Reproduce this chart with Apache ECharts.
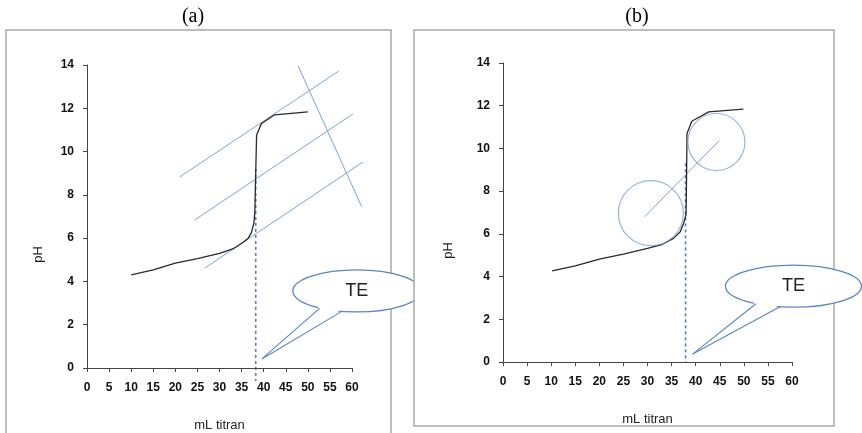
<!DOCTYPE html>
<html>
  <head>
    <meta charset="utf-8" />
    <script src="https://cdn.jsdelivr.net/npm/echarts@6.0.0/dist/echarts.min.js"></script>
    <style>
      html, body { margin: 0; padding: 0; background: #fff; }
      #main { width: 862px; height: 433px; }
    </style>
  </head>

  <body>
    <div id="main"></div>
    <script type="text/javascript">
      // titration curve, panel (a)
      const curveA = [
        [10, 4.3], [15, 4.53], [20, 4.85], [25, 5.05], [30, 5.3], [33, 5.5],
        [35.3, 5.8], [36.5, 6.0], [37.2, 6.24], [37.8, 6.7], [38.0, 7.2],
        [38.2, 9.0], [38.4, 10.77], [39.5, 11.3], [42.5, 11.7], [50, 11.83]
      ];
      // titration curve, panel (b)
      const curveB = [
        [10.2, 4.27], [15, 4.5], [20, 4.82], [25, 5.05], [30, 5.32], [33, 5.5],
        [35.4, 5.79], [36.8, 6.1], [37.5, 6.5], [38.0, 6.9], [38.1, 8.5],
        [38.2, 10.7], [39.2, 11.27], [42.7, 11.71], [49.9, 11.84]
      ];
      // construction lines, panel (a): three parallel tangents and one crossing line
      // each row: x1, y1, x2, y2
      const linesA = [
        [21.0, 8.83, 57.0, 13.72],
        [24.4, 6.84, 60.2, 11.74],
        [26.7, 4.62, 62.5, 9.52],
        [47.8, 13.96, 62.2, 7.45]
      ];
      const dropA = [[38.2, 9.2, 38.2, -0.6]];
      // construction, panel (b): two circles joined by a line
      const circlesB = [[30.7, 6.97], [44.3, 10.3]];
      const linesB = [[29.4, 6.8, 44.9, 10.37]];
      const dropB = [[37.9, 9.3, 37.9, 0]];
      // callouts: ellipse centre, then tip of the tail
      const calloutA = [[61.1, 3.56, 39.6, 0.42]];
      const calloutB = [[60.3, 3.55, 39.3, 0.36]];

      const xTicks = { min: 0, max: 60, interval: 5 };
      const yTicks = { min: 0, max: 14, interval: 2 };

      var myChart = echarts.init(document.getElementById('main'));

      const blue = '#7aa3d6';
      const calloutBlue = '#5b86c0';

      function axisX(gridIndex, z, gap) {
        return {
          type: 'value', gridIndex: gridIndex, z: z,
          min: xTicks.min, max: xTicks.max, interval: xTicks.interval,
          name: 'mL titran', nameLocation: 'middle', nameGap: gap,
          nameTextStyle: { fontFamily: 'Liberation Sans', fontSize: 13, color: '#222' },
          axisLine: { show: true, lineStyle: { color: '#444', width: 1 } },
          axisTick: { show: true, inside: false, length: 4, lineStyle: { color: '#444' } },
          axisLabel: { margin: 14, fontFamily: 'Liberation Sans', fontSize: 12, fontWeight: 'bold', color: '#111' },
          splitLine: { show: false }
        };
      }
      function axisY(gridIndex, z, gap, pad) {
        return {
          type: 'value', gridIndex: gridIndex, z: z,
          min: yTicks.min, max: yTicks.max, interval: yTicks.interval,
          name: 'pH', nameLocation: 'middle', nameGap: gap,
          nameTextStyle: { fontFamily: 'Liberation Sans', fontSize: 13, color: '#222', padding: [0, pad, 0, 0] },
          axisLine: { show: true, lineStyle: { color: '#444', width: 1 } },
          axisTick: { show: true, inside: false, length: 4, lineStyle: { color: '#444' } },
          axisLabel: { margin: 13, fontFamily: 'Liberation Sans', fontSize: 12, fontWeight: 'bold', color: '#111' },
          splitLine: { show: false }
        };
      }

      function curve(data, idx, z) {
        return {
          type: 'line', xAxisIndex: idx, yAxisIndex: idx, data: data, z: z,
          symbol: 'none', silent: true, smooth: false,
          lineStyle: { color: '#2a2a2a', width: 1.3 }
        };
      }

      // straight construction segments, drawn through the axes' scales
      function segments(data, idx, color, width, dash, z) {
        return {
          type: 'custom', xAxisIndex: idx, yAxisIndex: idx, data: data, z: z,
          clip: false, silent: true,
          renderItem: function (params, api) {
            const p1 = api.coord([api.value(0), api.value(1)]);
            const p2 = api.coord([api.value(2), api.value(3)]);
            return {
              type: 'line',
              shape: { x1: p1[0], y1: p1[1], x2: p2[0], y2: p2[1] },
              style: { stroke: color, lineWidth: width, lineDash: dash }
            };
          }
        };
      }

      function callout(rx, ry, b1, b2) {
        return function (params, api) {
          const c = api.coord([api.value(0), api.value(1)]);
          const t = api.coord([api.value(2), api.value(3)]);
          const edge = dx => [c[0] + dx, c[1] + ry * Math.sqrt(1 - (dx / rx) * (dx / rx))];
          const p1 = edge(b1), p2 = edge(b2);
          return {
            type: 'group',
            children: [
              { type: 'ellipse', shape: { cx: c[0], cy: c[1], rx: rx, ry: ry },
                style: { fill: '#fff', stroke: calloutBlue, lineWidth: 1.3 } },
              { type: 'polygon', shape: { points: [[p1[0], p1[1] - 2], t, [p2[0], p2[1] - 2]] },
                style: { fill: '#fff', stroke: null } },
              { type: 'polyline', shape: { points: [p1, t, p2] },
                style: { fill: null, stroke: calloutBlue, lineWidth: 1.1 } },
              { type: 'text', style: { text: 'TE', x: c[0], y: c[1], align: 'center', verticalAlign: 'middle',
                font: '18px "Liberation Sans"', fill: '#222' } }
            ]
          };
        };
      }

      var option = {
        animation: false,
        backgroundColor: '#fff',
        graphic: {
          elements: [
            { type: 'text', x: 193, y: 17, z: 5,
              style: { text: '(a)', align: 'center', verticalAlign: 'middle', font: '20px "Liberation Serif"', fill: '#000' } },
            { type: 'text', x: 637, y: 17, z: 5,
              style: { text: '(b)', align: 'center', verticalAlign: 'middle', font: '20px "Liberation Serif"', fill: '#000' } },
            { type: 'rect', z: 0, shape: { x: 6, y: 30, width: 385, height: 420 },
              style: { fill: '#fff', stroke: '#a8a8a8', lineWidth: 1.5 } },
            { type: 'rect', z: 2, shape: { x: 414, y: 30, width: 420, height: 396 },
              style: { fill: '#fff', stroke: '#a8a8a8', lineWidth: 1.5 } }
          ]
        },
        grid: [
          { left: 87, top: 65, width: 265, height: 303, outerBoundsMode: 'none', containLabel: false },
          { left: 503, top: 63, width: 289, height: 299, outerBoundsMode: 'none', containLabel: false }
        ],
        xAxis: [axisX(0, 1, 51), axisX(1, 3, 51)],
        yAxis: [axisY(0, 1, 42, 76), axisY(1, 3, 48, 76)],
        series: [
          segments(linesA, 0, blue, 1, null, 1),
          curve(curveA, 0, 1),
          segments(dropA, 0, '#4d7fc4', 1.6, [3, 3], 1),
          {
            type: 'custom', xAxisIndex: 0, yAxisIndex: 0, z: 1, clip: false, silent: true,
            data: calloutA, renderItem: callout(64, 21, -37, -15)
          },
          segments(linesB, 1, blue, 1, null, 3),
          {
            type: 'scatter', xAxisIndex: 1, yAxisIndex: 1, z: 3, silent: true,
            data: circlesB.slice(0, 1), symbol: 'circle', symbolSize: 65,
            itemStyle: { color: 'rgba(0,0,0,0)', borderColor: blue, borderWidth: 1.2 }
          },
          {
            type: 'scatter', xAxisIndex: 1, yAxisIndex: 1, z: 3, silent: true,
            data: circlesB.slice(1), symbol: 'circle', symbolSize: 57,
            itemStyle: { color: 'rgba(0,0,0,0)', borderColor: blue, borderWidth: 1.2 }
          },
          curve(curveB, 1, 3),
          segments(dropB, 1, '#4d7fc4', 1.6, [3, 3], 3),
          {
            type: 'custom', xAxisIndex: 1, yAxisIndex: 1, z: 4, clip: false, silent: true,
            data: calloutB, renderItem: callout(68, 21, -37.5, -13.5)
          }
        ]
      };

      myChart.setOption(option);
    </script>
  </body>

</html>
